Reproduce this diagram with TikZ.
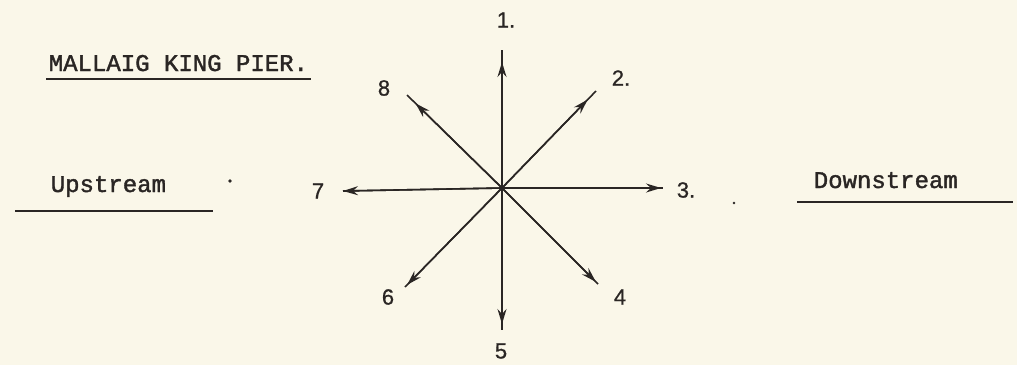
\documentclass[tikz,border=0pt]{standalone}
\usepackage{fontspec}
\setmonofont[FakeBold=1.6]{Liberation Mono}
\setsansfont[FakeBold=0.8]{Liberation Sans}
\usetikzlibrary{arrows.meta,calc}
\definecolor{paper}{RGB}{250,247,233}
\definecolor{ink}{RGB}{42,38,36}
\begin{document}
\begin{tikzpicture}[x=1pt,y=-1pt,line width=1.6pt,draw=ink,
  tt/.style={text=ink,font=\ttfamily\fontsize{24}{28}\selectfont,anchor=base west,inner sep=0pt},
  num/.style={text=ink,font=\sffamily\fontsize{22}{24}\selectfont,inner sep=0pt},
  tick/.style={-{Stealth[length=15pt,width=9pt,inset=5pt]}}]
\fill[paper] (0,0) rectangle (1017,365);
\useasboundingbox (0,0) rectangle (1017,365);

\coordinate (c) at (502,188);
\foreach \n/\x/\y/\b/\lx/\ly/\lab in {
1/502/50/12/506/20/{1.},
2/596/91/12/621/78/{2.},
3/663/188/2/686/190/{3.},
4/598/284/3/620/297/{4},
5/502/330/6/501/351/{5},
6/405/287/3/388/297/{6},
7/343/191/0/318/191/{7},
8/407/95/12/384/88/{8}}
{
  \coordinate (e\n) at (\x,\y);
  \coordinate (h\n) at ($(e\n)!\b pt!(c)$);
  \draw (c) -- (e\n);
  \draw[tick] (c) -- (h\n);
  \node[num] (n\n) at (\lx,\ly) {\lab};
}

% headings
\node[tt] (pier) at (48,71) {MALLAIG KING PIER.};
\coordinate (pl) at (46,79);
\coordinate (pr) at (311,79);
\draw (pl) -- (pr);

\node[tt] (up) at (50,192) {Upstream};
\coordinate (ul) at (15,211);
\coordinate (ur) at (213,211);
\draw (ul) -- (ur);

\node[tt] (down) at (813,188) {Downstream};
\coordinate (dl) at (797,202);
\coordinate (dr) at (1013,202);
\draw (dl) -- (dr);

% specks
\fill[ink] (230,181) circle (1.8pt);
\fill[ink] (734,203) circle (1.4pt);
\end{tikzpicture}
\end{document}
